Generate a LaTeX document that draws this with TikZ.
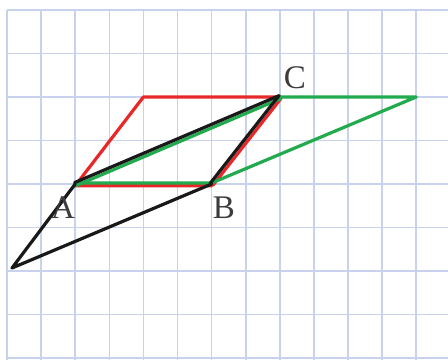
\documentclass[tikz,border=0pt]{standalone}
\usepackage{fontspec}
\setmainfont{Liberation Serif}
\definecolor{gridc}{RGB}{200,210,236}
\definecolor{redc}{RGB}{232,40,40}
\definecolor{greenc}{RGB}{34,170,78}
\definecolor{blackc}{RGB}{25,25,25}
\definecolor{labc}{RGB}{60,60,60}
\begin{document}
\begin{tikzpicture}[x=1pt,y=1pt,
  gridline/.style={gridc, line width=1.6pt},
  redline/.style={redc, line width=3.2pt, line cap=round, line join=round},
  greenline/.style={greenc, line width=3.2pt, line cap=round, line join=round},
  blackline/.style={blackc, line width=3.2pt, line cap=round, line join=round},
  lab/.style={labc, font=\fontsize{33}{33}\selectfont, inner sep=0pt}]
\useasboundingbox (0,0) rectangle (448,360);
\fill[white] (0,0) rectangle (448,360);
% grid
\foreach \i in {0,...,12} {
  \draw[gridline] ({7+34.1*\i},0) -- ({7+34.1*\i},350);
}
\foreach \j in {0,...,8} {
  \draw[gridline] (7,{350-43.5*\j}) -- (448,{350-43.5*\j});
}
% points
\coordinate (A) at (75.2,176);
\coordinate (B) at (211.6,176);
\coordinate (C) at (279.8,263);
\coordinate (R) at (143.4,263);
\coordinate (G) at (416.2,263);
\coordinate (E) at (12,92);
% red parallelogram
\draw[redline] ([yshift=-1.8pt]B) -- ([yshift=-1.8pt]A) -- (R) -- (C);
\draw[redline] ([shift={(1.4,-1.1)}]C) -- ([shift={(1.4,-1.1)}]B);
% green parallelogram
\draw[greenline] ([yshift=1pt]A) -- ([yshift=1pt]B) -- (G) -- (C);
\draw[greenline] ([shift={(0.7,-1.7)}]A) -- ([shift={(0.7,-1.7)}]C);
% black quadrilateral
\draw[blackline] ([shift={(-0.6,1.4)}]A) -- ([shift={(-0.6,1.4)}]C);
\draw[blackline] ([shift={(-1.2,0.9)}]C) -- ([shift={(-1.2,0.9)}]B);
\draw[blackline] (B) -- (E) -- (A);
% labels
\node[lab] (lA) at (63,152) {A};
\node[lab] (lB) at (224,152) {B};
\node[lab] (lC) at (295,282) {C};
\end{tikzpicture}
\end{document}
